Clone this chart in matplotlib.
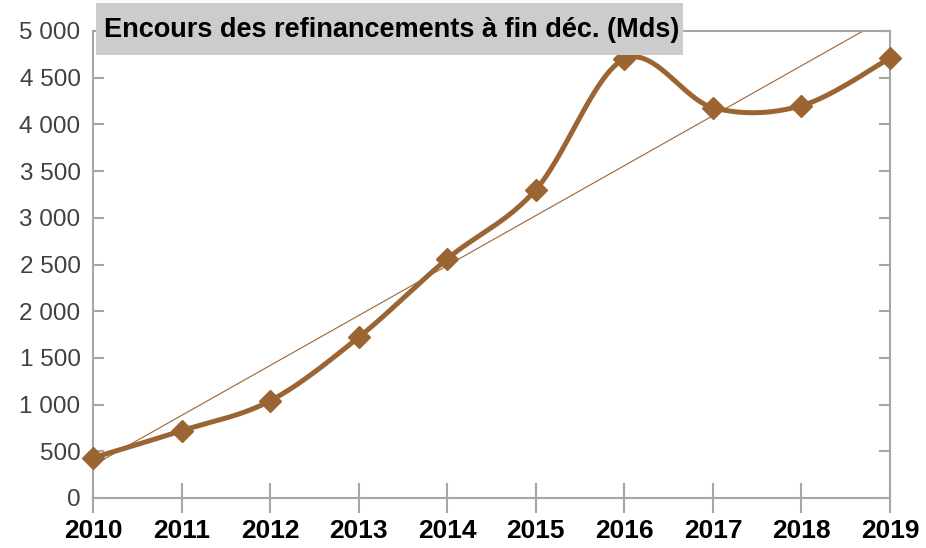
import numpy as np
import matplotlib
matplotlib.use("Agg")
import matplotlib.pyplot as plt
from matplotlib.patches import Rectangle
from matplotlib.ticker import FuncFormatter

years = [2010, 2011, 2012, 2013, 2014, 2015, 2016, 2017, 2018, 2019]
values = [430, 720, 1040, 1720, 2560, 3300, 4700, 4180, 4200, 4710]
title = "Encours des refinancements à fin déc. (Mds)"

color = "#9B6433"
spine_col = "#A6A6A6"

W, H = 926, 548
fig = plt.figure(figsize=(W / 100, H / 100), dpi=100)
ax = fig.add_axes([93 / W, 1 - 498 / H, (890 - 93) / W, (498 - 31) / H])

x = np.array(years, dtype=float)
y = np.array(values, dtype=float)

# Smoothed line (Catmull-Rom Bezier smoothing like spreadsheet charts)
f = 1 / 6
xs, ys = [], []
n = len(x)
for i in range(n - 1):
    p0 = np.array([x[max(i - 1, 0)], y[max(i - 1, 0)]])
    p1 = np.array([x[i], y[i]])
    p2 = np.array([x[i + 1], y[i + 1]])
    p3 = np.array([x[min(i + 2, n - 1)], y[min(i + 2, n - 1)]])
    c1 = p1 + f * (p2 - p0)
    c2 = p2 - f * (p3 - p1)
    t = np.linspace(0, 1, 50)[:, None]
    pts = (1 - t) ** 3 * p1 + 3 * (1 - t) ** 2 * t * c1 + 3 * (1 - t) * t ** 2 * c2 + t ** 3 * p2
    xs.extend(pts[:, 0]); ys.extend(pts[:, 1])

# Linear trendline
k, b = np.polyfit(x, y, 1)
xt = np.linspace(x[0], x[-1], 200)
ax.plot(xt, k * xt + b, color=color, lw=0.8, zorder=2)

ax.plot(xs, ys, color=color, lw=3.6, zorder=3, solid_capstyle="round")
ax.plot(x, y, linestyle="none", marker="D", ms=11.5, color=color, zorder=4, clip_on=False)

ax.set_xlim(2010, 2019)
ax.set_ylim(0, 5000)
ax.set_xticks(years)
ax.set_yticks(np.arange(0, 5001, 500))
ax.yaxis.set_major_formatter(FuncFormatter(lambda v, p: f"{int(v):,}".replace(",", " ")))

for s in ax.spines.values():
    s.set_color(spine_col)
    s.set_linewidth(1.5)

ax.tick_params(axis="y", which="both", direction="in", length=8, width=1.5, color=spine_col,
               labelsize=17.5, labelcolor="#404040", pad=9, right=True)
ax.tick_params(axis="x", direction="inout", length=22, width=1.5, color=spine_col,
               labelsize=19, pad=4)
for lab in ax.get_xticklabels():
    lab.set_fontweight("bold")
for lab in ax.get_xticklabels() + ax.get_yticklabels():
    lab.set_fontfamily("Liberation Sans")

# Title box
fig.patches.append(Rectangle((96 / W, 1 - 55 / H), (683 - 96) / W, 52 / H,
                             transform=fig.transFigure, facecolor="#CCCCCC",
                             edgecolor="none", zorder=5))
fig.text(104 / W, 1 - 30 / H, title, fontfamily="Liberation Sans", fontweight="bold",
         fontsize=19.5, va="center", ha="left", zorder=6)

fig.savefig("out.png", dpi=100)
